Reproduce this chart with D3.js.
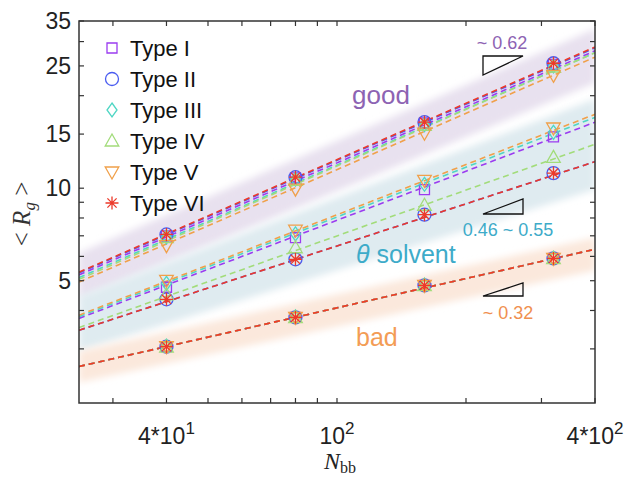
<!DOCTYPE html>
<html>
<head>
<meta charset="utf-8">
<script src="https://cdn.jsdelivr.net/npm/d3@7"></script>
<style>
  body { margin: 0; background: #fff; }
  svg { display: block; font-family: "Liberation Sans", Arial, sans-serif; }
</style>
</head>
<body>
<svg id="chart"></svg>
<script>
// ---- data ----
const nbb = [40, 80, 160, 320];
const types = ["Type I", "Type II", "Type III", "Type IV", "Type V", "Type VI"];
const typeColors = ["#9b3cf0", "#4a5cf0", "#4fd6c4", "#a2dc7a", "#f0a04a", "#ec3a2a"];
const typeMarkers = ["square", "circle", "diamond", "triangleUp", "triangleDown", "asterisk"];

// <Rg> per type (rows I..VI), columns follow nbb
const goodRg = [
    [7.0, 10.8, 16.3, 25.3],
    [7.07, 10.86, 16.4, 25.5],
    [6.95, 10.7, 16.1, 25.0],
    [6.9, 10.6, 16.0, 24.8],
    [6.5, 9.93, 15.1, 23.3],
    [7.07, 10.86, 16.4, 25.5]
];
const thetaRg = [
    [4.76, 6.9, 9.9, 14.7],
    [4.35, 5.87, 8.2, 11.2],
    [4.9, 7.1, 10.3, 15.2],
    [4.5, 6.4, 8.8, 12.6],
    [5.01, 7.3, 10.6, 15.7],
    [4.35, 5.87, 8.2, 11.2]
];
const badRg = [
    [3.05, 3.8, 4.83, 5.91],
    [3.05, 3.8, 4.83, 5.91],
    [3.06, 3.81, 4.84, 5.92],
    [3.04, 3.79, 4.82, 5.9],
    [3.05, 3.8, 4.83, 5.91],
    [3.05, 3.8, 4.83, 5.91]
];

// dashed fit lines: <Rg> at the two ends of the axis (N = 25 and N = 400)
const fitEnds = [25, 400];
const goodFit = [[5.22, 28.0], [5.30, 28.6], [5.12, 27.6], [5.05, 27.6], [4.95, 26.7], [5.33, 28.8]];
const thetaFit = [[3.77, 16.4], [3.45, 12.2], [3.82, 17.0], [3.52, 13.9], [3.86, 17.4], [3.45, 12.2]];
const badFit = [[2.63, 6.33], [2.63, 6.33], [2.63, 6.33], [2.63, 6.33], [2.63, 6.33], [2.63, 6.33]];

// shaded bands (low / high edge at N = 25 and N = 400)
const goodBand = {low: [4.35, 22.0], high: [6.15, 33.0]};
const thetaBand = {low: [2.95, 9.9], high: [4.45, 19.5]};
const badBand = {low: [2.33, 5.4], high: [2.95, 6.9]};

const xTickVals = [40, 100, 400];
const xTickBase = ["4*10", "10", "4*10"];
const xTickExp = ["1", "2", "2"];
const xMinor = [30, 50, 60, 70, 80, 90, 200, 300];
const yTickVals = [5, 10, 15, 25, 35];
const yMinor = [3, 4, 6, 7, 8, 9, 20, 30];

// ---- layout ----
const config = {
    width: 631,
    height: 477,
    margin: {top: 21, right: 36, bottom: 74, left: 79}
};
const innerW = config.width - config.margin.left - config.margin.right;
const innerH = config.height - config.margin.top - config.margin.bottom;

const svg = d3.select("#chart")
    .attr("width", config.width)
    .attr("height", config.height);

const x = d3.scaleLog().domain([25, 400]).range([0, innerW]);
const y = d3.scaleLog().domain([2, 35]).range([innerH, 0]);

const defs = svg.append("defs");
defs.append("clipPath").attr("id", "plotClip")
    .append("rect").attr("width", innerW).attr("height", innerH);
defs.append("filter").attr("id", "soft")
    .attr("x", "-10%").attr("y", "-30%").attr("width", "120%").attr("height", "160%")
    .append("feGaussianBlur").attr("stdDeviation", 3.5);

const g = svg.append("g")
    .attr("transform", `translate(${config.margin.left},${config.margin.top})`);
const plot = g.append("g").attr("clip-path", "url(#plotClip)");

// bands
const bands = [
    {band: goodBand, color: "#e8e1ef"},
    {band: thetaBand, color: "#dfebf0"},
    {band: badBand, color: "#fbe8dc"}
];
bands.forEach(b => {
    const pts = [
        [x(fitEnds[0]), y(b.band.high[0])],
        [x(fitEnds[1]), y(b.band.high[1])],
        [x(fitEnds[1]), y(b.band.low[1])],
        [x(fitEnds[0]), y(b.band.low[0])]
    ];
    plot.append("path")
        .attr("d", "M" + pts.join("L") + "Z")
        .attr("fill", b.color)
        .attr("filter", "url(#soft)");
});

// marker shapes, drawn around 0,0
function markerPath(kind) {
    switch (kind) {
        case "square": return "M-5,-5H5V5H-5Z";
        case "circle": return "M6.5,0A6.5,6.5 0 1,1 -6.5,0A6.5,6.5 0 1,1 6.5,0Z";
        case "diamond": return "M0,-7L5,0L0,7L-5,0Z";
        case "triangleUp": return "M0,-7L6.8,5L-6.8,5Z";
        case "triangleDown": return "M0,7L6.8,-5L-6.8,-5Z";
        case "asterisk": return "M-6.5,0H6.5M0,-6.5V6.5M-4.6,-4.6L4.6,4.6M-4.6,4.6L4.6,-4.6";
    }
}

const regimes = [
    {values: goodRg, fit: goodFit},
    {values: thetaRg, fit: thetaFit},
    {values: badRg, fit: badFit}
];

// fit lines first, markers on top
regimes.forEach(r => {
    r.fit.forEach((f, i) => {
        plot.append("line")
            .attr("x1", x(fitEnds[0])).attr("y1", y(f[0]))
            .attr("x2", x(fitEnds[1])).attr("y2", y(f[1]))
            .attr("stroke", typeColors[i])
            .attr("stroke-width", 1.6)
            .attr("stroke-dasharray", "6,4");
    });
});
regimes.forEach(r => {
    r.values.forEach((vals, i) => {
        plot.selectAll(null)
            .data(vals)
            .enter().append("path")
            .attr("transform", (d, j) => `translate(${x(nbb[j])},${y(d)})`)
            .attr("d", markerPath(typeMarkers[i]))
            .attr("fill", "none")
            .attr("stroke", typeColors[i])
            .attr("stroke-width", 1.3);
    });
});

// axes box and ticks (inward, on all four sides)
const axisColor = "#333";
g.append("rect")
    .attr("width", innerW).attr("height", innerH)
    .attr("fill", "none").attr("stroke", axisColor).attr("stroke-width", 1.5);

const tickLen = 5;
const allX = xTickVals.concat(xMinor);
const allY = yTickVals.concat(yMinor);
const ticks = g.append("g").attr("stroke", axisColor).attr("stroke-width", 1.2);
allX.forEach(v => {
    ticks.append("line").attr("x1", x(v)).attr("x2", x(v)).attr("y1", innerH).attr("y2", innerH - tickLen);
    ticks.append("line").attr("x1", x(v)).attr("x2", x(v)).attr("y1", 0).attr("y2", tickLen);
});
allY.forEach(v => {
    ticks.append("line").attr("x1", 0).attr("x2", tickLen).attr("y1", y(v)).attr("y2", y(v));
    ticks.append("line").attr("x1", innerW).attr("x2", innerW - tickLen).attr("y1", y(v)).attr("y2", y(v));
});

// tick labels
g.append("g").selectAll("text")
    .data(yTickVals)
    .enter().append("text")
    .attr("x", -8)
    .attr("y", d => y(d))
    .attr("dy", "0.36em")
    .attr("text-anchor", "end")
    .attr("font-size", 23)
    .attr("fill", "#222")
    .text(d => d);

const xLab = g.append("g").selectAll("text")
    .data(xTickVals)
    .enter().append("text")
    .attr("x", d => x(d))
    .attr("y", innerH + 41)
    .attr("text-anchor", "middle")
    .attr("font-size", 23)
    .attr("fill", "#222");
xLab.append("tspan").text((d, i) => xTickBase[i]);
xLab.append("tspan").attr("dy", -10).attr("font-size", 17).text((d, i) => xTickExp[i]);

// axis titles
const xTitle = svg.append("text")
    .attr("x", 340).attr("y", 469)
    .attr("text-anchor", "middle")
    .attr("font-family", "'Liberation Serif', 'Times New Roman', serif")
    .attr("font-size", 24)
    .attr("fill", "#222");
xTitle.append("tspan").attr("font-style", "italic").text("N");
xTitle.append("tspan").attr("dy", 4).attr("font-size", 16).text("bb");

const yTitle = svg.append("text")
    .attr("transform", "translate(30,214) rotate(-90)")
    .attr("text-anchor", "middle")
    .attr("font-family", "'Liberation Serif', 'Times New Roman', serif")
    .attr("font-size", 25)
    .attr("fill", "#333");
yTitle.append("tspan").text("< ");
yTitle.append("tspan").attr("font-style", "italic").text("R");
yTitle.append("tspan").attr("font-style", "italic").attr("dy", 5).attr("font-size", 17).text("g");
yTitle.append("tspan").attr("dy", -5).text(" >");

// legend
const legend = g.append("g").attr("transform", "translate(33,27)");
types.forEach((t, i) => {
    const row = legend.append("g").attr("transform", `translate(0,${i * 31})`);
    row.append("path")
        .attr("d", markerPath(typeMarkers[i]))
        .attr("fill", "none")
        .attr("stroke", typeColors[i])
        .attr("stroke-width", 1.3);
    row.append("text")
        .attr("x", 18).attr("dy", "0.36em")
        .attr("font-size", 22)
        .attr("fill", "#111")
        .text(t);
});

// regime labels and slope triangles
const annotations = [
    {text: "good", x: 352, y: 104, size: 26, color: "#8d63b3"},
    {text: "bad", x: 356, y: 346, size: 25, color: "#f39c55"}
];
annotations.forEach(a => {
    svg.append("text")
        .attr("x", a.x).attr("y", a.y)
        .attr("font-size", a.size).attr("fill", a.color)
        .text(a.text);
});
const thetaLabel = svg.append("text")
    .attr("x", 356).attr("y", 263)
    .attr("font-size", 25).attr("fill", "#3eabc9");
thetaLabel.append("tspan").attr("font-style", "italic").text("\u03b8");
thetaLabel.append("tspan").text(" solvent");

const slopes = [
    {label: "~ 0.62", color: "#8d63b3", tri: [[483, 56], [523, 56], [483, 75]], lx: 502, ly: 49},
    {label: "0.46 ~ 0.55", color: "#3eabc9", tri: [[483, 214], [523, 199], [523, 214]], lx: 508, ly: 236},
    {label: "~ 0.32", color: "#f09050", tri: [[483, 296], [523, 283], [523, 296]], lx: 508, ly: 319}
];
slopes.forEach(s => {
    svg.append("path")
        .attr("d", "M" + s.tri.join("L") + "Z")
        .attr("fill", "none").attr("stroke", "#111").attr("stroke-width", 1.3);
    svg.append("text")
        .attr("x", s.lx).attr("y", s.ly)
        .attr("text-anchor", "middle")
        .attr("font-size", 18).attr("fill", s.color)
        .text(s.label);
});
</script>
</body>
</html>
